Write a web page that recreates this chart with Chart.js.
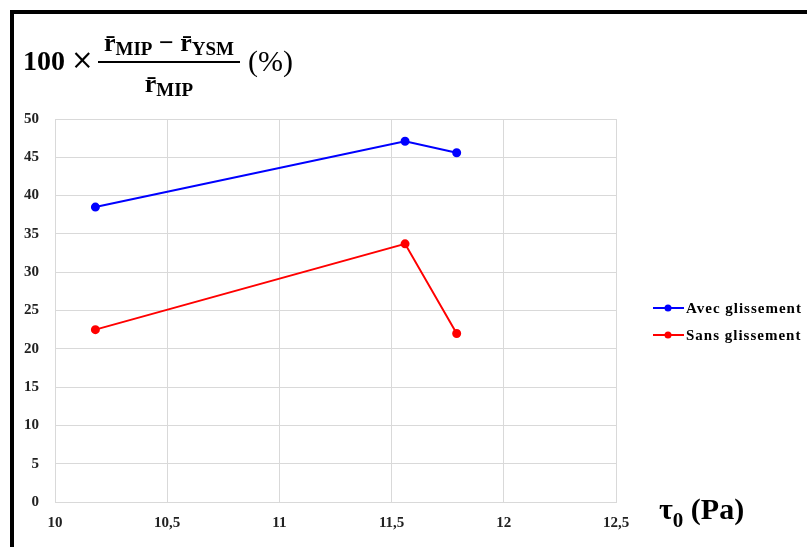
<!DOCTYPE html>
<html>
<head>
<meta charset="utf-8">
<script src="https://cdn.jsdelivr.net/npm/chart.js@4"></script>
<style>
  body { margin: 0; background: #fff; }
  #wrap { position: relative; width: 807px; height: 547px; overflow: hidden; }
  #frame { position: absolute; left: 10px; top: 10px; right: -10px; bottom: -10px;
           border-top: 4px solid #000; border-left: 4px solid #000; }
  .m { position: absolute; font-family: "Liberation Serif", serif; font-weight: bold;
       color: #000; white-space: nowrap; }
  .sub { font-size: 19px; position: relative; top: 4px; }
</style>
</head>
<body>
<div id="wrap">
  <canvas id="ctx" width="807" height="547"></canvas>
  <div id="frame"></div>

  <!-- y axis title: 100 x (rMIP - rYSM) / rMIP (%) -->
  <div class="m" style="left:23px; top:47px; font-size:28px; line-height:28px;">100</div>
  <div class="m" style="left:71px; top:46px; font-size:27px; line-height:28px; font-family:'DejaVu Serif'; font-weight:normal;">×</div>
  <div class="m" style="left:98px; top:27px; width:142px; text-align:center; font-size:26px;">
    <div style="line-height:32px;">r̄<span class="sub">MIP</span> − r̄<span class="sub">YSM</span></div>
    <div style="border-top:2px solid #000; padding-top:5px; line-height:32px;">r̄<span class="sub">MIP</span></div>
  </div>
  <div class="m" style="left:248px; top:46px; font-size:30px; line-height:30px; font-weight:normal;">(%)</div>

  <!-- x axis title -->
  <div class="m" style="left:659px; top:494px; font-size:30px; line-height:30px;">τ<span style="font-size:21px; position:relative; top:8px;">0</span> (Pa)</div>
</div>

<script>
const ctx = document.getElementById("ctx");

const xValues = [10.18, 11.56, 11.79];
const avecValues = [38.5, 47.1, 45.6];
const sansValues = [22.5, 33.7, 22.0];
const seriesLabels = ["Avec glissement", "Sans glissement"];
const seriesColors = ["#0000ff", "#ff0000"];

function toPoints(ys) {
  const pts = [];
  for (let i = 0; i < xValues.length; i++) {
    pts.push({ x: xValues[i], y: ys[i] });
  }
  return pts;
}

// legend with a line + dot sample, drawn to the right of the plot
const sideLegend = {
  id: "sideLegend",
  afterDraw(chart) {
    const c = chart.ctx;
    c.save();
    chart.data.datasets.forEach((ds, i) => {
      const y = 308 + i * 27;
      c.strokeStyle = ds.borderColor;
      c.lineWidth = 2;
      c.beginPath();
      c.moveTo(653, y);
      c.lineTo(684, y);
      c.stroke();
      c.fillStyle = ds.borderColor;
      c.beginPath();
      c.arc(668, y, 3.5, 0, Math.PI * 2);
      c.fill();
      c.fillStyle = "#000";
      c.font = "bold 15px 'Liberation Serif'";
      c.letterSpacing = "1px";
      c.textBaseline = "middle";
      c.fillText(ds.label, 686, y + 1);
    });
    c.restore();
  },
};

const tickFont = { family: "Liberation Serif", size: 15, weight: "bold" };

new Chart(ctx, {
  type: "line",
  data: {
    datasets: [
      {
        label: seriesLabels[0],
        data: toPoints(avecValues),
        borderColor: seriesColors[0],
        backgroundColor: seriesColors[0],
        borderWidth: 2,
        pointRadius: 3.5,
      },
      {
        label: seriesLabels[1],
        data: toPoints(sansValues),
        borderColor: seriesColors[1],
        backgroundColor: seriesColors[1],
        borderWidth: 2,
        pointRadius: 3.5,
      },
    ],
  },
  options: {
    responsive: false,
    animation: false,
    layout: { padding: { left: 0, top: 119, right: 191, bottom: 0 } },
    plugins: { legend: { display: false }, tooltip: { enabled: false } },
    scales: {
      x: {
        type: "linear",
        min: 10,
        max: 12.5,
        afterFit: (s) => { s.height = 45; },
        ticks: {
          stepSize: 0.5,
          padding: 12,
          color: "#222",
          font: tickFont,
          callback: (v) => String(v).replace(".", ","),
        },
        grid: { color: "#d9d9d9", drawTicks: false },
        border: { color: "#d9d9d9" },
      },
      y: {
        min: 0,
        max: 50,
        afterFit: (s) => { s.width = 55; },
        ticks: { stepSize: 5, padding: 16, color: "#222", font: tickFont },
        grid: { color: "#d9d9d9", drawTicks: false },
        border: { color: "#d9d9d9" },
      },
    },
  },
  plugins: [sideLegend],
});
</script>
</body>
</html>
